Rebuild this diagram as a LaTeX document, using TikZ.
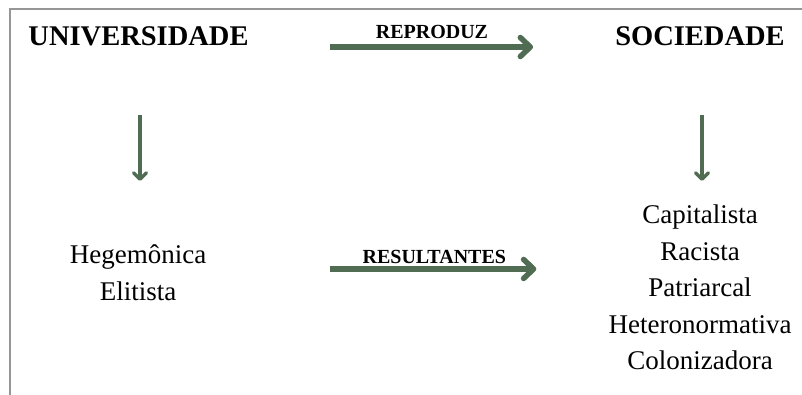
\documentclass[tikz,border=0pt]{standalone}
\usepackage{fontspec}
\setmainfont{Liberation Serif}
\usetikzlibrary{positioning,arrows.meta}
\definecolor{arrowgreen}{RGB}{80,108,82}
\definecolor{framegray}{RGB}{150,150,150}

\begin{document}
\begin{tikzpicture}[x=1pt,y=-1pt,
      title/.style={font=\fontsize{28.5}{34}\selectfont\bfseries,inner sep=0pt,anchor=base},
      verb/.style={font=\fontsize{20}{24}\selectfont\bfseries,inner sep=0pt,anchor=base},
      item/.style={font=\fontsize{27}{36.5}\selectfont,align=center,inner sep=0pt,anchor=north},
      bigarrow/.style={draw=arrowgreen,line width=5.5pt,-{Straight Barb[length=10pt,width=19pt,round]}},
      downarrow/.style={draw=arrowgreen,line width=3.5pt,-{Straight Barb[length=6.5pt,width=13pt,round]}}]

      \clip (0,0) rectangle (802,394);
      % frame
      \draw[framegray,line width=1.3pt] (10,9) rectangle (900,500);

      % top row
      \node[title] (univ) at (138.5,45) {UNIVERSIDADE};
      \node[title] (soc) at (700,45) {SOCIEDADE};
      % lists
      \node[item] (hegem) at (138,245) {Hegemônica\\Elitista};
      \node[item] (traits) at (700,205) {Capitalista\\Racista\\Patriarcal\\Heteronormativa\\Colonizadora};

      % reproduz
      \draw[bigarrow,shorten <=81pt,shorten >=82pt]
        ([yshift=-2pt]univ.base east) -- node[verb,yshift=9pt] {REPRODUZ} ([yshift=-2pt]soc.base west);
      % resultantes
      \draw[bigarrow,shorten <=124pt,shorten >=72pt]
        ([yshift=4pt]hegem.east) -- node[verb,pos=0.567,yshift=5pt] {RESULTANTES} ([yshift=4pt]hegem.east -| traits.west);
      % down
      \draw[downarrow,shorten <=69pt,shorten >=64pt]
        ([xshift=1.5pt]univ.south) -- ([xshift=1.5pt]univ.south |- hegem.north);
      \draw[downarrow,shorten <=70pt,shorten >=24pt]
        ([xshift=2pt]soc.south) -- ([xshift=2pt]soc.south |- traits.north);
\end{tikzpicture}
\end{document}
